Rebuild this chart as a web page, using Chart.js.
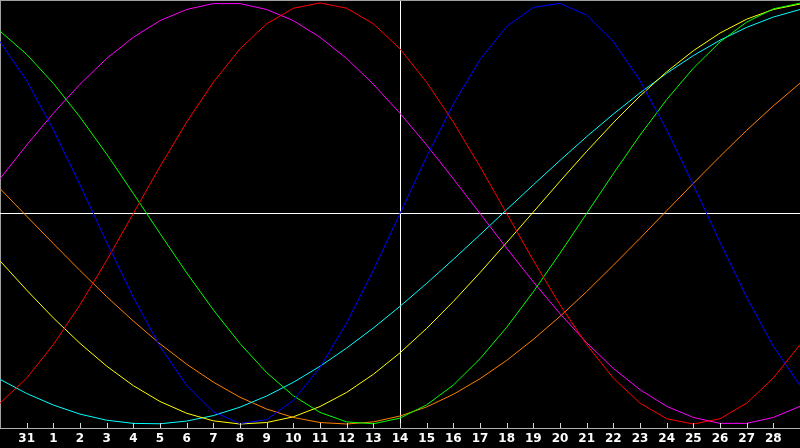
<!DOCTYPE html>
<html>
<head>
<meta charset="utf-8">
<script src="https://cdn.jsdelivr.net/npm/chart.js@4"></script>
<style>
  html, body { margin: 0; padding: 0; background: #000; }
  #wrap { width: 800px; height: 448px; }
</style>
</head>
<body>
<div id="wrap"><canvas id="bio"></canvas></div>
<script>
// day labels, left edge = 30th of previous month, right edge = 29th
const days = ['30', '31', '1', '2', '3', '4', '5', '6', '7', '8', '9', '10', '11', '12', '13', '14',
  '15', '16', '17', '18', '19', '20', '21', '22', '23', '24', '25', '26', '27', '28', '29'];

// values in percent (-100 .. 100), one per day
const blue = [81.7, 63.1, 39.8, 13.6, -13.6, -39.8, -63.1, -81.7, -94.2, -99.8, -97.9, -88.8, -73.1, -52.0, -27.0, 0,
  27.0, 52.0, 73.1, 88.8, 97.9, 99.8, 94.2, 81.7, 63.1, 39.8, 13.6, -13.6, -39.8, -63.1, -81.7];
const red = [-90.1, -78.2, -62.3, -43.4, -22.3, 0, 22.3, 43.4, 62.3, 78.2, 90.1, 97.5, 100, 97.5, 90.1, 78.2,
  62.3, 43.4, 22.3, 0, -22.3, -43.4, -62.3, -78.2, -90.1, -97.5, -100, -97.5, -90.1, -78.2, -62.3];
const green = [86.6, 75.6, 61.8, 45.8, 28.2, 9.5, -9.5, -28.2, -45.8, -61.8, -75.6, -86.6, -94.5, -99.0, -99.9, -97.2,
  -90.9, -81.5, -69.0, -54.1, -37.2, -18.9, 0, 18.9, 37.2, 54.1, 69.0, 81.5, 90.9, 97.2, 99.9];
const magenta = [16.5, 32.5, 47.6, 61.4, 73.6, 83.7, 91.6, 96.9, 99.7, 99.7, 96.9, 91.6, 83.7, 73.6, 61.4, 47.6,
  32.5, 16.5, 0, -16.5, -32.5, -47.6, -61.4, -73.6, -83.7, -91.6, -96.9, -99.7, -99.7, -96.9, -91.6];
const yellow = [-22.5, -36.4, -49.6, -61.7, -72.5, -81.8, -89.3, -94.9, -98.5, -100.0, -99.3, -96.6, -91.7, -85.0, -76.4, -66.2,
  -54.6, -41.8, -28.1, -13.8, 0.7, 15.3, 29.5, 43.1, 55.8, 67.3, 77.3, 85.7, 92.3, 96.9, 99.5];
const orange = [11.8, -1.3, -14.3, -27.1, -39.5, -51.1, -61.9, -71.6, -80.1, -87.3, -92.9, -96.9, -99.3, -100.0, -99.0, -96.2,
  -91.9, -85.9, -78.5, -69.8, -59.8, -48.9, -37.1, -24.6, -11.8, 1.3, 14.3, 27.1, 39.5, 51.1, 61.9];
const cyan = [-78.8, -85.5, -91.0, -95.3, -98.2, -99.7, -99.9, -98.6, -96.0, -92.0, -86.7, -80.2, -72.6, -63.9, -54.4, -44.1,
  -33.2, -21.8, -10.1, 1.8, 13.6, 25.2, 36.5, 47.2, 57.3, 66.6, 75.0, 82.3, 88.4, 93.3, 96.9];

const yMin = -101.9;
const yMax = 101.4;
const todayIndex = 15;

function line(data, color) {
  return { data, borderColor: color, borderWidth: 1, pointRadius: 0, tension: 0, fill: false };
}

// small tick marks that sit inside the plot, above the axis line
const innerTicks = {
  id: 'innerTicks',
  afterDraw(chart) {
    const x = chart.scales.x;
    const ctx = chart.ctx;
    const bottom = chart.chartArea.bottom;
    ctx.save();
    ctx.strokeStyle = '#d8d8d8';
    ctx.lineWidth = 1;
    ctx.beginPath();
    for (let i = 1; i < days.length - 1; i++) {
      const px = Math.round(x.getPixelForTick(i)) + 0.5;
      ctx.moveTo(px, bottom - 5);
      ctx.lineTo(px, bottom);
    }
    ctx.stroke();
    ctx.restore();
  }
};

new Chart(document.getElementById('bio'), {
  type: 'line',
  data: {
    labels: days,
    datasets: [
      line(blue, '#0000ff'),
      line(red, '#ff0000'),
      line(green, '#00ff00'),
      line(magenta, '#ff00ff'),
      line(yellow, '#ffff00'),
      line(cyan, '#00ffff'),
      line(orange, '#ff8000')
    ]
  },
  options: {
    responsive: true,
    maintainAspectRatio: false,
    animation: false,
    devicePixelRatio: 1,
    layout: { padding: 0, autoPadding: false },
    plugins: { legend: { display: false }, tooltip: { enabled: false } },
    scales: {
      x: {
        offset: false,
        afterFit: s => { s.height = 20; s.paddingLeft = 0; s.paddingRight = 0; },
        border: { color: '#b0b0b0', width: 1 },
        grid: {
          drawTicks: false,
          lineWidth: 1,
          color: c => c.index === todayIndex ? '#ffffff' : (c.index === 0 ? '#a0a0a0' : 'transparent')
        },
        ticks: {
          autoSkip: false,
          maxRotation: 0,
          padding: 4,
          color: '#ffffff',
          font: { family: 'DejaVu Sans', size: 12, weight: 'bold' },
          callback: (v, i) => (i === 0 || i === days.length - 1) ? '' : days[i]
        }
      },
      y: {
        min: yMin,
        max: yMax,
        afterFit: s => { s.width = 0; },
        afterBuildTicks: s => { s.ticks = [{ value: 0 }, { value: yMax }]; },
        border: { display: false },
        grid: {
          drawTicks: false,
          lineWidth: 1,
          color: c => c.tick && c.tick.value === 0 ? '#ffffff' : '#a0a0a0'
        },
        ticks: { display: false }
      }
    }
  },
  plugins: [innerTicks]
});
</script>
</body>
</html>
